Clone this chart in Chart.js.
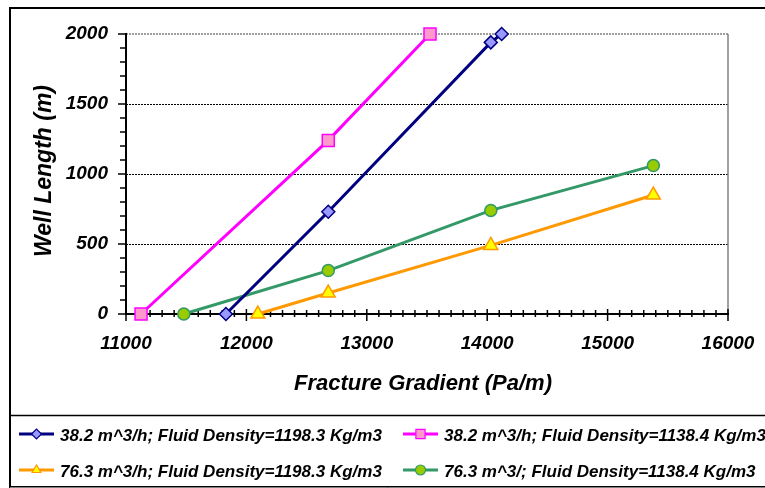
<!DOCTYPE html>
<html lang="en">
<head>
    <meta charset="UTF-8">
    <title>Well Length vs Fracture Gradient</title>
    <script src="https://cdn.jsdelivr.net/npm/chart.js@4.4.1/dist/chart.umd.min.js"></script>
    <style>
        body {
            margin: 0;
            background: #fff;
            overflow: hidden;
        }
        #wellChart {
            display: block;
        }
    </style>
</head>
<body>
    <canvas id="wellChart" width="765" height="488"></canvas>

    <script>
        // Values
        const xTicks = [11000, 12000, 13000, 14000, 15000, 16000];
        const yTicks = [0, 500, 1000, 1500, 2000];

        const seriesLabels = [
            '38.2 m^3/h; Fluid Density=1198.3 Kg/m3',
            '38.2 m^3/h; Fluid Density=1138.4 Kg/m3',
            '76.3 m^3/h; Fluid Density=1198.3 Kg/m3',
            '76.3 m^3/; Fluid Density=1138.4 Kg/m3'
        ];

        const gradientBlue = [11830, 12680, 14030, 14120];
        const lengthBlue = [0, 730, 1940, 2000];

        const gradientPink = [11125, 12680, 13525];
        const lengthPink = [0, 1240, 2000];

        const gradientOrange = [12095, 12680, 14030, 15380];
        const lengthOrange = [0, 150, 490, 850];

        const gradientGreen = [11480, 12680, 14030, 15380];
        const lengthGreen = [0, 310, 740, 1060];

        const FONT = '"Liberation Sans", Arial, sans-serif';

        function pairs(xs, ys) {
            return xs.map((x, i) => ({ x: x, y: ys[i] }));
        }

        function makeSet(label, xs, ys, line, fill, style, radius) {
            return {
                label: label,
                data: pairs(xs, ys),
                borderColor: line,
                borderWidth: 3,
                pointStyle: style,
                pointRadius: radius,
                pointBackgroundColor: fill,
                pointBorderColor: line,
                pointBorderWidth: 1.5,
                tension: 0,
                clip: false
            };
        }

        const datasets = [
            makeSet(seriesLabels[0], gradientBlue, lengthBlue, '#000080', '#9999FF', 'rectRot', 6.5),
            makeSet(seriesLabels[1], gradientPink, lengthPink, '#FF00FF', '#FF99CC', 'rect', 8.5),
            makeSet(seriesLabels[2], gradientOrange, lengthOrange, '#FF9900', '#FFFF00', 'triangle', 8),
            makeSet(seriesLabels[3], gradientGreen, lengthGreen, '#339966', '#99CC00', 'circle', 6)
        ];

        // frame, grid, minor ticks, titles and legend like the Excel chart
        const excelLook = {
            id: 'excelLook',
            beforeDraw(chart) {
                const c = chart.ctx;
                c.save();
                c.fillStyle = '#fff';
                c.fillRect(0, 0, chart.width, chart.height);
                // outer frame
                c.strokeStyle = '#000';
                c.lineWidth = 2;
                c.strokeRect(10, 8, 800, 479);
                // legend box
                c.lineWidth = 1.5;
                c.beginPath();
                c.moveTo(10, 415.5);
                c.lineTo(chart.width, 415.5);
                c.stroke();
                c.strokeStyle = '#808080';
                c.lineWidth = 1;
                c.beginPath();
                c.moveTo(10, 487.5);
                c.lineTo(chart.width, 487.5);
                c.stroke();
                c.restore();
            },
            beforeDatasetsDraw(chart) {
                const c = chart.ctx;
                const xs = chart.scales.x;
                const ys = chart.scales.y;
                const a = chart.chartArea;
                c.save();
                // dashed gridlines
                c.strokeStyle = '#000';
                c.lineWidth = 1;
                c.setLineDash([2, 1]);
                yTicks.forEach(v => {
                    if (v === 0 || v === 2000) return;
                    const py = Math.round(ys.getPixelForValue(v)) + 0.5;
                    c.beginPath();
                    c.moveTo(a.left, py);
                    c.lineTo(a.right, py);
                    c.stroke();
                });
                // gray plot border top and right
                c.strokeStyle = '#808080';
                c.lineWidth = 1.5;
                c.setLineDash([2, 1]);
                c.beginPath();
                c.moveTo(a.left, a.top);
                c.lineTo(a.right, a.top);
                c.stroke();
                c.setLineDash([]);
                c.beginPath();
                c.moveTo(a.right, a.top);
                c.lineTo(a.right, a.bottom);
                c.stroke();
                // axes
                c.strokeStyle = '#000';
                c.lineWidth = 2;
                c.beginPath();
                c.moveTo(a.left, a.top - 1);
                c.lineTo(a.left, a.bottom);
                c.lineTo(a.right + 1, a.bottom);
                c.stroke();
                // ticks every 100
                c.lineWidth = 1.5;
                for (let v = 0; v <= 2000; v += 100) {
                    const py = ys.getPixelForValue(v);
                    const major = v % 500 === 0;
                    c.beginPath();
                    c.moveTo(a.left - (major ? 8 : 6), py);
                    c.lineTo(a.left, py);
                    c.stroke();
                }
                for (let v = 11000; v <= 16000; v += 100) {
                    const px = xs.getPixelForValue(v);
                    const major = v % 1000 === 0;
                    c.beginPath();
                    c.moveTo(px, a.bottom - (major ? 5 : 4));
                    c.lineTo(px, a.bottom + (major ? 7 : 3));
                    c.stroke();
                }
                c.restore();
            },
            afterDraw(chart) {
                const c = chart.ctx;
                c.save();
                c.fillStyle = '#000';
                // axis titles
                c.font = 'italic bold 22px ' + FONT;
                c.textAlign = 'center';
                c.textBaseline = 'alphabetic';
                c.fillText('Fracture Gradient (Pa/m)', 423, 390);
                c.font = 'italic bold 23px ' + FONT;
                c.translate(51, 171);
                c.rotate(-Math.PI / 2);
                c.fillText('Well Length (m)', 0, 0);
                c.setTransform(1, 0, 0, 1, 0, 0);

                // legend, two columns
                const spots = [[19, 434], [403, 434], [19, 470], [403, 470]];
                c.font = 'italic bold 17px ' + FONT;
                c.textAlign = 'left';
                c.textBaseline = 'middle';
                chart.data.datasets.forEach((ds, k) => {
                    const [lx, ly] = spots[k];
                    c.strokeStyle = ds.borderColor;
                    c.lineWidth = 3;
                    c.beginPath();
                    c.moveTo(lx, ly);
                    c.lineTo(lx + 35, ly);
                    c.stroke();
                    c.fillStyle = ds.pointBackgroundColor;
                    c.strokeStyle = ds.pointBorderColor;
                    c.lineWidth = 1.2;
                    Chart.helpers.drawPoint(c, {
                        pointStyle: ds.pointStyle,
                        radius: ds.pointStyle === 'rect' ? 6.5 : 5,
                        rotation: 0,
                        borderWidth: 1.2
                    }, lx + 17.5, ly);
                    c.fillStyle = '#000';
                    c.fillText(ds.label, lx + 41, ly + 2);
                });
                c.restore();
            }
        };

        const ctx = document.getElementById('wellChart').getContext('2d');
        new Chart(ctx, {
            type: 'line',
            data: { datasets: datasets },
            options: {
                responsive: false,
                animation: false,
                layout: {
                    padding: { left: 0, top: 34, right: 37, bottom: 124 }
                },
                plugins: {
                    legend: { display: false },
                    tooltip: { enabled: false }
                },
                scales: {
                    x: {
                        type: 'linear',
                        min: 11000,
                        max: 16000,
                        afterBuildTicks: s => { s.ticks = xTicks.map(v => ({ value: v })); },
                        afterFit: s => { s.height = 50; s.paddingLeft = 0; s.paddingRight = 0; },
                        grid: { display: false, drawTicks: false, tickLength: 0 },
                        border: { display: false },
                        ticks: {
                            color: '#000',
                            padding: 18,
                            maxRotation: 0,
                            autoSkip: false,
                            font: { family: FONT, size: 19, style: 'italic', weight: 'bold' },
                            callback: v => String(v)
                        }
                    },
                    y: {
                        type: 'linear',
                        min: 0,
                        max: 2000,
                        afterBuildTicks: s => { s.ticks = yTicks.map(v => ({ value: v })); },
                        afterFit: s => { s.width = 126; s.paddingTop = 0; s.paddingBottom = 0; },
                        grid: { display: false, drawTicks: false, tickLength: 0 },
                        border: { display: false },
                        ticks: {
                            color: '#000',
                            padding: 18,
                            autoSkip: false,
                            font: { family: FONT, size: 19, style: 'italic', weight: 'bold' },
                            callback: v => String(v)
                        }
                    }
                }
            },
            plugins: [excelLook]
        });
    </script>
</body>
</html>
